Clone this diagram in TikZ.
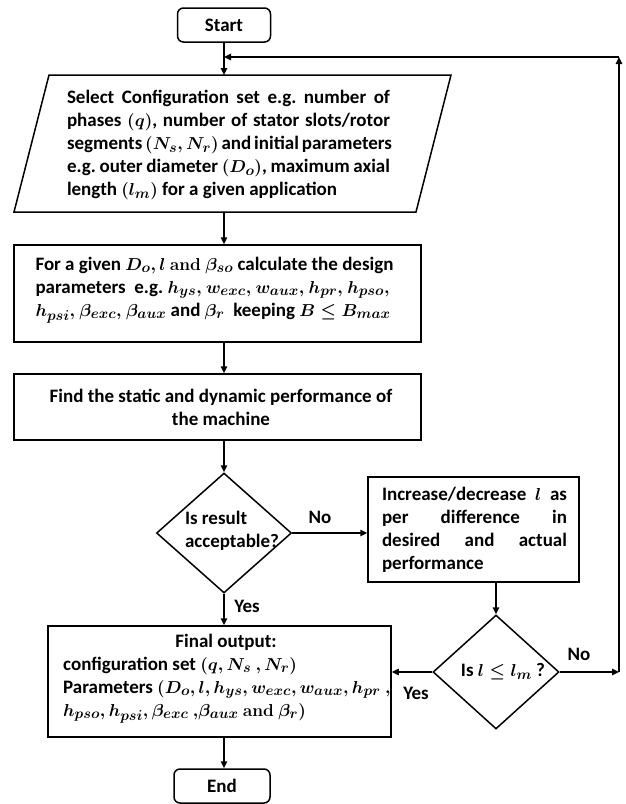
\documentclass[tikz,border=0pt]{standalone}
\usepackage[no-math]{fontspec}
\setmainfont{Carlito}
\usetikzlibrary{arrows.meta,shapes.geometric}
\frenchspacing
\begin{document}
\begin{tikzpicture}[x=1pt,y=-1pt,
  every node/.style={font=\fontsize{19}{23}\selectfont\bfseries\boldmath, inner sep=0pt},
  shapeline/.style={draw, line width=1.5pt},
  tbox/.style={shapeline, rectangle},
  term/.style={shapeline, rectangle, rounded corners=6pt, minimum width=93pt, minimum height=34pt},
  dia/.style={shapeline, diamond},
  arr/.style={line width=1.5pt, -{Triangle[length=7pt,width=6.5pt]}},
  lbl/.style={}]
\useasboundingbox (0,0) rectangle (625,804);

% Start
\node[term] (start) at (224,25) {Start};

% Parallelogram
\coordinate (pA) at (49,75);
\coordinate (pB) at (451,75);
\coordinate (pC) at (416,212);
\coordinate (pD) at (14,212);
\draw[shapeline, line join=miter] (pA) -- (pB) -- (pC) -- (pD) -- cycle;
\coordinate (ptop) at (224,75);
\coordinate (pbot) at (224,212);
\node[align=left] (seltxt) at (228.5,145) {%
\makebox[323pt][s]{Select Configuration set e.g. number of}\\
\makebox[323pt][s]{phases $(q)$, number of stator slots/rotor}\\
\makebox[323pt][s]{segments $(N_s{,}\,N_r)$ and initial parameters}\\
\makebox[323pt][s]{e.g. outer diameter $(D_o)$, maximum axial}\\
length $(l_m)$ for a given application};

% Box 2
\node[tbox, minimum width=407pt, minimum height=97pt] (b2) at (217.5,293.5) {};
\node[align=left] (b2t) at (214.5,290) {%
For a given $D_o, l$ $\mathrm{and}$ $\beta_{so}$ calculate the design\\
parameters\ \ e.g. $h_{ys},$ $w_{exc},$ $w_{aux},$ $h_{pr},$ $h_{pso},$\\
$h_{psi},$ $\beta_{exc},$ $\beta_{aux}$ and $\beta_r$\ \ keeping $B\le B_{max}$};

% Box 3
\node[tbox, minimum width=407pt, minimum height=66pt] (b3) at (217.5,407) {};
\node[align=center] (b3t) at (221,407) {Find the static and dynamic performance of\\the machine};

% Diamond 1
\node[dia, minimum width=135pt, minimum height=120pt] (d1) at (224,533) {};
\node[align=left] (d1t) at (232,531) {Is result\\acceptable?};

% Box 4
\node[tbox, minimum width=211pt, minimum height=105pt] (b4) at (473.5,529.5) {};
\node[align=left] (b4t) at (474.5,530) {%
\makebox[185pt][s]{Increase/decrease $l$ as}\\
\makebox[185pt][s]{per difference in}\\
\makebox[185pt][s]{desired and actual}\\
performance};

% Diamond 2
\node[dia, minimum width=126pt, minimum height=114pt] (d2) at (496,672) {};
\node (d2t) at (503,672) {Is $l\le l_m$ ?};

% Final box
\node[tbox, minimum width=343pt, minimum height=111pt] (fin) at (219.5,681.5) {};
\node (fint1) at (226,642) {Final output:};
\node[align=left, anchor=west] (fint2) at (63,690) {%
configuration set $(q{,}\,N_s\ {,}\,N_r)$\\
Parameters $(D_o{,}\,l{,}\,h_{ys}{,}\,w_{exc}{,}\,w_{aux}{,}\,h_{pr}\ {,}$\\
$h_{pso}{,}\,h_{psi}{,}\,\beta_{exc}\ {,}\beta_{aux}\ \mathrm{and}\ \beta_r)$};

% End
\node[term, minimum width=96pt] (end) at (222,786) {End};

% Labels
\node[lbl] (no1) at (320,517) {No};
\node[lbl] (yes1) at (247,606) {Yes};
\node[lbl] (no2) at (579,654) {No};
\node[lbl] (yes2) at (416,693) {Yes};

% Connectors
\draw[arr] (start) -- (ptop);
\draw[arr] (pbot) -- (b2.north -| start);
\draw[arr] (b2.south -| start) -- (b3.north -| start);
\draw[arr] (b3.south -| start) -- (d1.north);
\draw[arr] (d1.east) -- (d1.east -| b4.west);
\draw[arr] (d1.south) -- (fin.north -| d1.south);
\draw[arr] (b4.south -| d2.north) -- (d2.north);
\draw[arr] (d2.west) -- (d2.west -| fin.east);
\draw[arr] (fin.south -| start) -- (end.north -| start);

% Feedback loop
\coordinate (fbR) at (619,672);
\coordinate (fbT) at (619,57);
\coordinate (fbL) at (224,57);
\draw[arr] (d2.east) -- (fbR);
\draw[arr] (fbR) -- (fbT);
\draw[arr] (fbT) -- (fbL);
\end{tikzpicture}
\end{document}
